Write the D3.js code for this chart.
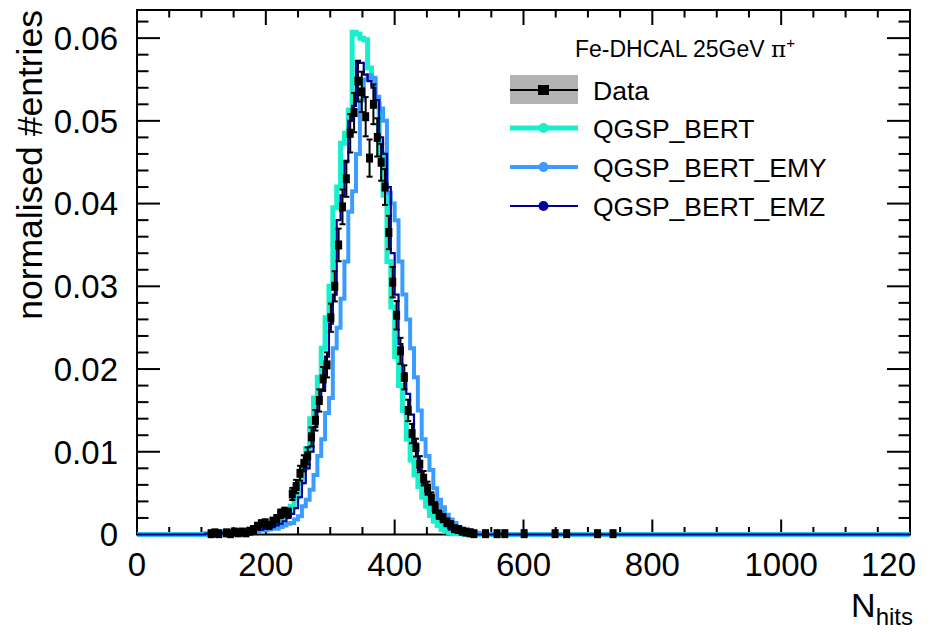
<!DOCTYPE html>
<html>
<head>
<meta charset="utf-8">
<script src="https://cdn.jsdelivr.net/npm/d3@7"></script>
<style>
  body { margin: 0; background: #fff; }
  text { font-family: "Liberation Sans", Arial, Helvetica, sans-serif; }
</style>
</head>
<body>
<div id="chart"></div>
<script>
// bins are 6 hits wide, first bin starts at 100 hits
const binStart = 100;
const binWidth = 6;

const dataVals = [
  0, 0, 0.0001, 0.0002, 0.0001, 0, 0.0002, 0.0001, 0.0003, 0.0002,
  0.0003, 0.0002, 0.0004, 0.0006, 0.0010, 0.0013, 0.0014, 0.0011, 0.0016, 0.0019,
  0.0025, 0.0027, 0.0026, 0.0049, 0.0058, 0.0074, 0.0086, 0.0095, 0.0118, 0.0138,
  0.0162, 0.0188, 0.0205, 0.0262, 0.0300, 0.0350, 0.0396, 0.0430, 0.0485, 0.0510,
  0.0548, 0.0535, 0.0505, 0.0455, 0.0520, 0.0480, 0.0450, 0.0420, 0.0365, 0.0305,
  0.0265, 0.0222, 0.0190, 0.0150, 0.0122, 0.0105, 0.0085, 0.0068, 0.0056, 0.0044,
  0.0033, 0.0024, 0.0020, 0.0015, 0.0012, 0.0007, 0.0006, 0.0004, 0.0003, 0.0002,
  0.0001, 0, 0, 0.0001, 0, 0, 0.0001, 0, 0.0001, 0,
  0, 0, 0, 0.0001, 0, 0, 0, 0, 0, 0,
  0, 0.0001, 0, 0, 0.0001, 0, 0, 0, 0, 0,
  0, 0, 0.0001, 0, 0, 0, 0.0001
];
const dataEvents = 9000; // for the statistical error bars

const qgspBert = [
  0, 0.0001, 0.0001, 0.0002, 0.0001, 0.0002, 0.0002, 0.0003, 0.0002, 0.0003,
  0.0004, 0.0003, 0.0005, 0.0004, 0.0006, 0.0007, 0.0008, 0.0010, 0.0012, 0.0014,
  0.0018, 0.0021, 0.0028, 0.0034, 0.0045, 0.0062, 0.0080, 0.0104, 0.0140, 0.0165,
  0.0190, 0.0225, 0.0262, 0.0300, 0.0395, 0.0420, 0.0473, 0.0485, 0.0513, 0.0607,
  0.0605, 0.0600, 0.0598, 0.0564, 0.0550, 0.0520, 0.0460, 0.0410, 0.0330, 0.0275,
  0.0215, 0.0180, 0.0150, 0.0115, 0.0090, 0.0072, 0.0058, 0.0045, 0.0034, 0.0023,
  0.0016, 0.0011, 0.0006, 0.0004, 0.0002, 0.0001, 0.0001, 0.0001
];

const qgspBertEmy = [
  0, 0.0001, 0.0001, 0.0001, 0.0001, 0.0002, 0.0001, 0.0002, 0.0002, 0.0002,
  0.0003, 0.0003, 0.0003, 0.0004, 0.0004, 0.0005, 0.0005, 0.0006, 0.0007, 0.0007,
  0.0009, 0.0011, 0.0013, 0.0014, 0.0018, 0.0022, 0.0034, 0.0042, 0.0054, 0.0072,
  0.0095, 0.0115, 0.0147, 0.0165, 0.0225, 0.0250, 0.0285, 0.0330, 0.0390, 0.0415,
  0.0460, 0.0525, 0.0550, 0.0555, 0.0552, 0.0529, 0.0515, 0.0500, 0.0413, 0.0400,
  0.0380, 0.0330, 0.0290, 0.0260, 0.0225, 0.0190, 0.0150, 0.0115, 0.0095, 0.0078,
  0.0056, 0.0042, 0.0033, 0.0024, 0.0018, 0.0014, 0.0009, 0.0006, 0.0005, 0.0005,
  0.0003, 0.0002, 0.0001
];

const qgspBertEmz = [
  0, 0.0001, 0.0001, 0.0001, 0.0002, 0.0002, 0.0002, 0.0002, 0.0003, 0.0003,
  0.0003, 0.0004, 0.0004, 0.0005, 0.0007, 0.0006, 0.0007, 0.0008, 0.0009, 0.0011,
  0.0013, 0.0016, 0.0020, 0.0025, 0.0032, 0.0045, 0.0062, 0.0080, 0.0100, 0.0130,
  0.0160, 0.0175, 0.0215, 0.0255, 0.0290, 0.0380, 0.0410, 0.0450, 0.0500, 0.0518,
  0.0572, 0.0570, 0.0556, 0.0548, 0.0540, 0.0525, 0.0480, 0.0460, 0.0420, 0.0340,
  0.0290, 0.0230, 0.0195, 0.0170, 0.0145, 0.0110, 0.0078, 0.0062, 0.0050, 0.0036,
  0.0026, 0.0020, 0.0015, 0.0010, 0.0006, 0.0003, 0.0002, 0.0001, 0.0001
];

const seriesNames = ["Data", "QGSP_BERT", "QGSP_BERT_EMY", "QGSP_BERT_EMZ"];
const xTickValues = [0, 200, 400, 600, 800, 1000, 1200];
const xTickLabels = ["0", "200", "400", "600", "800", "1000", "120"]; // last one is cut by the canvas
const yTickLabels = ["0", "0.01", "0.02", "0.03", "0.04", "0.05", "0.06"];
const legendHeader = "Fe-DHCAL 25GeV ";

const W = 932, H = 632;
const svg = d3.select('#chart').append('svg')
  .attr('width', W).attr('height', H);

const x = d3.scaleLinear().domain([0, 1200]).range([137, 910]);
const y = d3.scaleLinear().domain([0, 0.0634]).range([534.5, 10]);

// frame
svg.append('rect')
  .attr('x', x(0)).attr('y', y(0.0634))
  .attr('width', x(1200) - x(0)).attr('height', y(0) - y(0.0634))
  .attr('fill', 'none').attr('stroke', '#000').attr('stroke-width', 2);

// ticks, all four sides, pointing inwards
const ticks = svg.append('g').attr('stroke', '#000').attr('stroke-width', 2);
d3.range(0, 1201, 50).forEach(v => {
  let len = v % 200 === 0 ? 15 : 7.5;
  ticks.append('line').attr('x1', x(v)).attr('x2', x(v))
    .attr('y1', y(0)).attr('y2', y(0) - len);
  ticks.append('line').attr('x1', x(v)).attr('x2', x(v))
    .attr('y1', y(0.0634)).attr('y2', y(0.0634) + len);
});
d3.range(0, 32).forEach(i => {
  let v = i * 0.002;
  let len = i % 5 === 0 ? 23 : 11.5;
  ticks.append('line').attr('x1', x(0)).attr('x2', x(0) + len)
    .attr('y1', y(v)).attr('y2', y(v));
  ticks.append('line').attr('x1', x(1200)).attr('x2', x(1200) - len)
    .attr('y1', y(v)).attr('y2', y(v));
});

// tick labels
svg.selectAll('.xlab').data(xTickValues).enter().append('text')
  .attr('class', 'xlab')
  .attr('x', (d, i) => i === xTickValues.length - 1 ? x(d) + 6 : x(d))
  .attr('y', 576)
  .attr('text-anchor', (d, i) => i === xTickValues.length - 1 ? 'end' : 'middle')
  .attr('font-size', 33)
  .text((d, i) => xTickLabels[i]);
svg.selectAll('.ylab').data(yTickLabels).enter().append('text')
  .attr('class', 'ylab')
  .attr('x', 118).attr('y', d => y(+d) + 11.8)
  .attr('text-anchor', 'end').attr('font-size', 33)
  .text(d => d);

// axis titles
svg.append('text')
  .attr('transform', 'translate(42,10) rotate(-90)')
  .attr('text-anchor', 'end').attr('font-size', 35.5)
  .text('normalised #entries');
let xt = svg.append('text').attr('x', 913).attr('y', 617)
  .attr('text-anchor', 'end').attr('font-size', 34);
xt.append('tspan').text('N');
xt.append('tspan').attr('dy', 8).attr('font-size', 24).text('hits');

// histogram outline as steps
function steps(vals) {
  let pts = [[0, 0]];
  vals.forEach((v, i) => pts.push([binStart + i * binWidth, v]));
  pts.push([binStart + vals.length * binWidth, 0]);
  pts.push([1200, 0]);
  return pts;
}
const line = d3.line()
  .x(d => x(d[0])).y(d => y(d[1]))
  .curve(d3.curveStepAfter);

const mc = [
  { vals: qgspBert, color: '#18f0cb', w: 5 },
  { vals: qgspBertEmy, color: '#3b9cff', w: 4 },
  { vals: qgspBertEmz, color: '#00009a', w: 2.2 }
];
mc.forEach(s => {
  svg.append('path')
    .datum(steps(s.vals))
    .attr('d', line)
    .attr('fill', 'none')
    .attr('stroke', s.color)
    .attr('stroke-width', s.w);
});

// data points on top: marker + error bars
const dataPts = [];
dataVals.forEach((v, i) => {
  if (v > 0) dataPts.push({ c: binStart + (i + 0.5) * binWidth, v: v, e: Math.sqrt(v / dataEvents) });
});
const dg = svg.append('g');
dataPts.forEach(p => {
  let cx = x(p.c), cy = y(p.v);
  dg.append('line').attr('x1', x(p.c - binWidth / 2)).attr('x2', x(p.c + binWidth / 2))
    .attr('y1', cy).attr('y2', cy).attr('stroke', '#000').attr('stroke-width', 2);
  dg.append('line').attr('x1', cx).attr('x2', cx)
    .attr('y1', y(p.v + p.e)).attr('y2', y(Math.max(0, p.v - p.e)))
    .attr('stroke', '#000').attr('stroke-width', 2);
  [p.v + p.e, Math.max(0, p.v - p.e)].forEach(ev => {
    dg.append('line').attr('x1', cx - 3).attr('x2', cx + 3)
      .attr('y1', y(ev)).attr('y2', y(ev)).attr('stroke', '#000').attr('stroke-width', 2);
  });
  dg.append('rect').attr('x', cx - 3.5).attr('y', cy - 4.5)
    .attr('width', 7).attr('height', 9).attr('fill', '#000');
});

// legend
let hd = svg.append('text').attr('x', 575).attr('y', 57).attr('font-size', 23)
  .text(legendHeader);
hd.append('tspan').attr('font-family', '"DejaVu Serif", "Liberation Serif", serif')
  .text('π');
hd.append('tspan').attr('dy', -9).attr('font-size', 15).text('+');

const lg = svg.append('g');
const rowY = [90, 128, 167, 206];
lg.append('rect').attr('x', 510).attr('y', 75).attr('width', 68).attr('height', 29)
  .attr('fill', '#b3b3b3');
lg.append('line').attr('x1', 510).attr('x2', 578).attr('y1', rowY[0]).attr('y2', rowY[0])
  .attr('stroke', '#000').attr('stroke-width', 2);
lg.append('rect').attr('x', 538).attr('y', rowY[0] - 5).attr('width', 11).attr('height', 10)
  .attr('fill', '#000');
mc.forEach((s, i) => {
  let yy = rowY[i + 1];
  lg.append('line').attr('x1', 510).attr('x2', 578).attr('y1', yy).attr('y2', yy)
    .attr('stroke', s.color).attr('stroke-width', s.w);
  lg.append('circle').attr('cx', 543.5).attr('cy', yy).attr('r', 5).attr('fill', s.color);
});
seriesNames.forEach((n, i) => {
  lg.append('text').attr('x', 593).attr('y', rowY[i] + 9.5)
    .attr('font-size', 26.5).text(n);
});
</script>
</body>
</html>
